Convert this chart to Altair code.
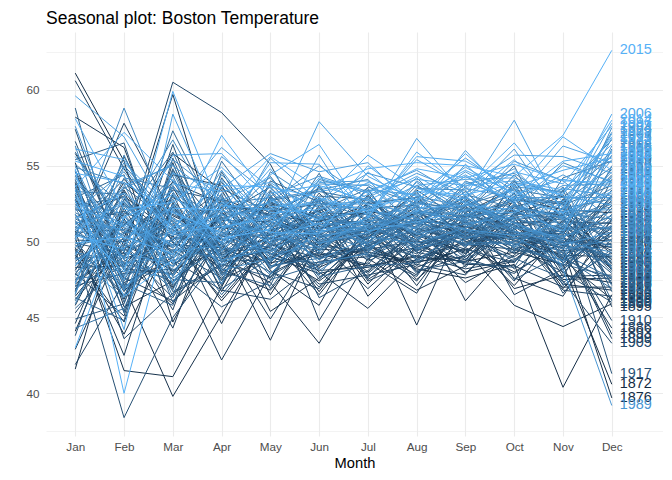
import altair as alt
import pandas as pd

months = ["Jan", "Feb", "Mar", "Apr", "May", "Jun", "Jul", "Aug", "Sep", "Oct", "Nov", "Dec"]
years = list(range(1872, 2016))

# one value per year (1872 ... 2015), 12 years per row
jan = [
    47.2, 52.8, 44.1, 49.6, 61.1, 48.3, 53.9, 41.6, 50.7, 46.4, 55.2, 48.9,
    51.3, 45.8, 49.1, 58.2, 47.5, 53.4, 42.9, 50.2, 48.1, 54.6, 46.9, 60.6,
    49.8, 44.6, 52.3, 47.9, 55.8, 50.4, 41.9, 48.7, 53.1, 46.2, 51.6, 57.4,
    48.4, 52.7, 45.3, 50.9, 47.1, 54.3, 49.5, 43.8, 51.8, 56.6, 46.7, 50.1,
    53.6, 47.8, 49.9, 44.9, 52.1, 48.6, 55.4, 50.6, 46.3, 51.2, 58.8, 47.4,
    50.3, 54.1, 48.2, 45.6, 52.9, 49.4, 47.0, 53.8, 51.5, 46.8, 50.8, 55.9,
    48.9, 52.4, 50.0, 46.1, 54.7, 49.2, 51.9, 47.6, 53.3, 50.5, 44.3, 52.6,
    49.7, 53.5, 47.3, 51.4, 55.1, 48.0, 50.9, 52.2, 46.5, 54.0, 49.3, 51.1,
    52.5, 47.7, 50.6, 54.9, 49.0, 51.7, 45.9, 53.2, 50.2, 48.5, 56.3, 51.0,
    50.8, 54.4, 48.8, 52.0, 57.6, 49.6, 53.7, 46.6, 51.3, 55.0, 50.1, 52.8,
    53.0, 49.1, 55.6, 51.8, 47.2, 54.2, 50.7, 52.9, 59.6, 48.4, 53.4, 51.5,
    52.3, 56.1, 50.4, 54.5, 49.9, 53.6, 58.1, 51.2, 55.3, 43.0, 52.7, 54.8,
]
feb = [
    49.8, 46.2, 51.5, 43.9, 55.3, 48.4, 47.1, 52.6, 41.5, 50.3, 45.7, 53.9,
    48.6, 51.9, 44.7, 56.2, 49.3, 46.8, 50.1, 42.5, 53.4, 47.6, 49.0, 54.8,
    46.4, 52.2, 48.9, 45.1, 50.7, 57.8, 47.3, 51.1, 43.6, 49.7, 53.0, 48.2,
    51.4, 45.4, 49.6, 54.1, 47.9, 50.5, 38.4, 52.8, 46.7, 48.8, 55.6, 50.0,
    47.5, 53.3, 49.2, 45.9, 51.7, 48.0, 56.5, 50.8, 44.8, 52.0, 47.2, 49.5,
    52.5, 46.0, 50.2, 48.7, 54.4, 47.0, 51.3, 45.3, 49.9, 53.6, 48.3, 50.9,
    49.1, 52.9, 46.5, 51.6, 48.5, 55.0, 50.4, 47.8, 53.1, 49.4, 45.6, 51.8,
    50.6, 48.1, 54.2, 46.9, 52.3, 49.8, 51.0, 47.4, 55.7, 50.1, 48.6, 53.5,
    47.7, 51.2, 49.0, 53.8, 46.3, 50.7, 52.4, 48.9, 58.8, 51.5, 47.0, 49.6,
    52.7, 48.2, 50.5, 54.6, 49.3, 51.9, 46.8, 53.0, 50.8, 48.4, 55.2, 51.1,
    49.9, 53.7, 51.4, 47.5, 54.9, 50.2, 52.6, 48.8, 56.9, 51.7, 44.2, 53.2,
    51.0, 55.4, 49.5, 53.9, 50.3, 57.2, 52.1, 48.0, 54.3, 51.6, 46.4, 40.0,
]
mar = [
    48.1, 53.6, 46.9, 50.4, 44.7, 52.0, 39.8, 49.2, 41.1, 55.8, 47.4, 51.3,
    45.9, 50.8, 53.1, 47.7, 59.7, 49.0, 44.3, 52.6, 48.5, 46.1, 54.4, 50.0,
    52.3, 47.0, 49.8, 55.2, 45.5, 51.7, 48.8, 53.9, 46.6, 60.5, 50.5, 47.9,
    49.4, 54.7, 46.3, 51.0, 48.2, 52.9, 45.0, 50.1, 56.4, 47.3, 49.9, 53.4,
    51.8, 46.7, 50.9, 54.0, 48.0, 52.4, 47.1, 49.6, 55.5, 50.3, 45.8, 51.4,
    48.9, 53.2, 47.5, 50.6, 46.0, 54.8, 49.3, 52.1, 48.4, 51.1, 57.3, 49.7,
    52.7, 48.6, 50.2, 55.9, 47.8, 51.5, 49.1, 53.7, 46.4, 50.7, 52.5, 48.3,
    50.4, 47.6, 53.5, 49.5, 51.9, 46.8, 54.3, 50.8, 48.7, 52.2, 49.0, 55.1,
    53.0, 49.8, 51.6, 47.2, 54.6, 50.0, 48.1, 52.8, 50.9, 56.7, 49.4, 51.2,
    49.6, 52.4, 55.4, 50.5, 48.4, 53.3, 51.0, 47.7, 54.1, 50.2, 52.0, 49.1,
    51.5, 55.0, 49.7, 53.6, 50.8, 52.3, 48.6, 54.5, 51.3, 47.3, 58.4, 50.9,
    53.8, 50.6, 55.7, 51.9, 49.2, 54.0, 52.6, 59.9, 50.4, 53.1, 48.8, 52.2,
]
apr = [
    49.5, 47.8, 52.3, 46.1, 50.7, 48.9, 45.2, 51.6, 47.0, 53.4, 49.9, 44.6,
    50.4, 48.2, 46.7, 51.9, 49.1, 42.2, 52.8, 47.5, 50.0, 48.6, 53.7, 46.3,
    48.8, 51.3, 49.6, 47.1, 54.2, 50.2, 46.8, 52.5, 48.4, 58.5, 49.7, 51.0,
    47.6, 50.8, 52.0, 48.1, 45.7, 51.4, 49.3, 53.1, 47.9, 50.6, 48.7, 52.7,
    50.1, 48.5, 53.5, 49.0, 51.7, 46.9, 50.5, 52.2, 48.0, 49.8, 54.6, 47.4,
    51.2, 49.4, 47.3, 52.6, 50.3, 48.3, 53.9, 49.9, 51.5, 46.5, 50.9, 52.4,
    49.2, 51.8, 50.0, 48.7, 52.9, 47.7, 51.1, 49.5, 55.3, 50.7, 48.2, 51.6,
    52.1, 49.6, 51.3, 48.9, 50.4, 53.6, 47.8, 52.5, 50.2, 49.1, 51.9, 48.6,
    50.8, 53.0, 49.3, 51.5, 48.1, 52.3, 50.6, 47.2, 54.0, 51.0, 49.7, 52.8,
    51.7, 49.0, 52.9, 50.3, 54.4, 48.8, 51.4, 53.2, 49.9, 52.0, 50.5, 55.6,
    50.0, 52.7, 54.7, 49.4, 51.8, 56.2, 50.9, 53.5, 48.5, 52.4, 51.1, 54.1,
    53.3, 51.0, 55.8, 50.6, 52.6, 49.8, 54.9, 51.9, 57.0, 50.2, 53.7, 52.1,
]
may = [
    48.6, 51.2, 46.5, 49.9, 52.4, 47.3, 50.6, 45.4, 53.0, 48.1, 43.5, 50.9,
    49.4, 46.8, 52.1, 48.7, 50.3, 47.9, 51.7, 49.0, 44.9, 52.8, 48.4, 50.0,
    51.5, 49.2, 47.6, 53.3, 50.1, 48.5, 46.2, 51.8, 49.7, 55.1, 48.0, 50.7,
    49.8, 52.5, 48.3, 50.5, 47.4, 51.3, 49.6, 46.9, 52.9, 50.2, 48.8, 51.0,
    50.8, 47.7, 51.9, 49.3, 53.6, 48.9, 50.4, 52.2, 47.1, 51.1, 49.5, 54.0,
    49.0, 52.0, 50.6, 48.2, 51.4, 53.8, 49.9, 47.5, 52.6, 50.3, 48.6, 51.7,
    51.6, 49.1, 52.7, 50.0, 48.4, 51.2, 54.3, 49.7, 50.9, 47.8, 52.3, 50.5,
    50.2, 52.4, 49.4, 51.5, 53.1, 48.7, 50.8, 52.9, 49.2, 51.3, 47.9, 52.0,
    51.8, 49.6, 53.4, 50.4, 48.9, 52.5, 51.0, 54.6, 49.8, 50.7, 52.8, 48.3,
    52.2, 50.9, 48.8, 53.7, 51.4, 49.5, 52.6, 50.1, 55.5, 51.6, 49.3, 53.0,
    51.3, 54.2, 50.5, 52.8, 49.9, 53.5, 51.7, 55.8, 50.3, 52.1, 54.8, 51.0,
    53.9, 51.5, 52.3, 55.2, 50.6, 53.2, 51.9, 54.4, 52.7, 50.8, 53.6, 55.6,
]
jun = [
    49.2, 46.7, 51.5, 48.3, 50.8, 43.3, 52.1, 47.6, 49.9, 45.8, 50.4, 48.0,
    47.4, 50.6, 48.8, 52.7, 46.5, 49.5, 51.3, 47.9, 50.0, 44.8, 49.1, 51.9,
    50.3, 48.1, 52.4, 49.6, 47.2, 51.0, 48.7, 53.5, 50.5, 49.0, 46.9, 52.0,
    48.9, 51.6, 49.3, 47.0, 52.9, 50.1, 48.4, 51.2, 46.3, 49.8, 53.2, 50.7,
    51.4, 49.7, 47.5, 52.3, 50.2, 48.6, 51.8, 49.4, 53.7, 50.9, 48.2, 52.6,
    50.0, 52.5, 49.0, 51.1, 47.7, 50.7, 53.0, 48.5, 51.5, 49.9, 52.2, 50.4,
    49.5, 51.7, 53.3, 50.6, 48.9, 52.0, 50.1, 54.5, 49.2, 51.3, 47.8, 52.8,
    51.9, 49.3, 50.8, 52.7, 48.1, 51.4, 53.6, 50.3, 49.7, 52.4, 50.9, 48.6,
    50.5, 52.9, 49.8, 51.2, 54.1, 50.0, 48.8, 52.5, 51.6, 49.4, 53.4, 50.7,
    51.1, 53.8, 50.4, 52.2, 49.6, 51.9, 55.0, 50.8, 52.6, 49.9, 51.5, 54.3,
    52.4, 50.2, 53.9, 51.6, 55.7, 50.9, 52.8, 54.6, 51.2, 53.3, 50.6, 57.9,
    51.8, 54.0, 52.5, 55.1, 50.5, 53.7, 52.1, 56.4, 51.4, 54.2, 52.9, 53.5,
]
jul = [
    48.4, 50.9, 47.2, 49.7, 52.0, 48.9, 46.4, 50.3, 49.1, 51.5, 47.7, 45.6,
    49.8, 48.0, 51.2, 47.5, 50.5, 49.3, 52.4, 48.6, 46.9, 50.0, 49.6, 51.8,
    50.7, 48.3, 49.9, 52.6, 47.8, 50.2, 49.0, 51.3, 48.8, 53.1, 50.4, 47.4,
    49.5, 51.9, 48.5, 50.8, 49.2, 47.9, 52.2, 50.1, 48.1, 51.0, 49.7, 53.4,
    51.1, 49.4, 50.6, 48.7, 52.5, 50.0, 47.6, 51.7, 49.8, 50.9, 53.0, 49.1,
    50.3, 52.1, 49.6, 51.4, 48.4, 50.7, 52.8, 49.3, 51.2, 50.5, 48.9, 52.3,
    51.6, 50.2, 52.7, 49.5, 51.0, 53.5, 50.8, 49.0, 52.0, 50.4, 51.8, 49.7,
    50.6, 52.4, 49.9, 51.5, 50.1, 52.9, 49.4, 51.1, 53.6, 50.5, 51.9, 49.2,
    52.2, 50.7, 51.4, 49.8, 53.2, 51.0, 50.3, 52.6, 49.6, 51.7, 54.1, 50.9,
    51.3, 53.7, 50.8, 52.3, 51.6, 49.9, 52.8, 51.2, 54.5, 50.6, 52.1, 53.3,
    52.5, 51.1, 54.0, 52.9, 50.7, 53.4, 51.8, 55.2, 52.2, 53.8, 51.5, 54.3,
    53.1, 52.4, 55.7, 51.9, 54.6, 52.7, 53.9, 51.6, 55.0, 53.2, 52.0, 54.8,
]
aug = [
    49.0, 47.5, 50.6, 48.2, 51.4, 46.8, 49.7, 52.3, 48.6, 44.5, 50.1, 48.9,
    48.3, 50.8, 47.1, 49.5, 51.9, 48.7, 50.2, 46.6, 49.8, 52.0, 47.8, 50.4,
    51.2, 49.1, 47.4, 50.9, 48.5, 52.7, 49.6, 48.0, 51.5, 49.3, 53.4, 48.8,
    50.0, 48.4, 51.7, 49.9, 47.7, 50.5, 52.4, 49.2, 50.8, 48.1, 51.3, 49.4,
    49.7, 51.6, 48.9, 50.3, 52.9, 49.0, 51.1, 47.9, 50.7, 53.2, 49.5, 51.0,
    51.4, 49.8, 52.2, 50.1, 48.6, 51.8, 50.4, 53.0, 49.3, 51.2, 50.6, 48.7,
    50.9, 52.6, 49.4, 51.5, 50.0, 48.8, 52.3, 51.0, 49.6, 53.7, 50.5, 51.9,
    52.0, 50.3, 51.6, 49.7, 53.3, 50.8, 51.9, 49.5, 52.5, 51.2, 50.0, 52.8,
    50.6, 52.1, 51.3, 53.5, 50.2, 51.7, 49.9, 52.9, 51.0, 54.2, 50.7, 52.4,
    52.6, 51.1, 53.0, 50.5, 52.3, 54.0, 51.5, 50.9, 53.6, 52.0, 51.4, 54.7,
    51.8, 53.9, 52.4, 54.5, 51.3, 53.1, 55.4, 52.2, 53.7, 51.9, 56.8, 52.7,
    54.1, 52.8, 53.5, 55.6, 52.0, 54.3, 53.0, 55.9, 52.6, 54.8, 53.3, 55.2,
]
sep = [
    48.7, 50.3, 49.2, 47.6, 51.0, 48.4, 50.8, 46.1, 49.5, 51.7, 48.0, 50.0,
    49.6, 47.9, 51.3, 48.8, 50.5, 49.0, 47.3, 51.9, 48.5, 50.2, 52.4, 49.3,
    50.6, 48.2, 51.5, 49.8, 47.8, 50.9, 52.7, 49.1, 50.4, 48.6, 51.2, 49.9,
    49.4, 51.6, 48.9, 50.7, 52.2, 49.5, 48.3, 51.0, 50.1, 48.7, 52.9, 50.5,
    50.8, 49.2, 51.9, 48.6, 50.3, 52.5, 49.7, 51.4, 48.8, 50.0, 51.7, 53.3,
    51.1, 50.4, 49.0, 52.3, 50.6, 49.6, 51.8, 50.2, 53.0, 49.8, 51.3, 50.9,
    50.5, 52.0, 51.2, 49.7, 52.8, 50.8, 51.6, 53.6, 50.1, 51.9, 49.9, 52.6,
    51.7, 50.3, 52.4, 51.0, 49.8, 53.1, 51.4, 50.6, 52.2, 51.8, 54.0, 50.7,
    52.1, 51.3, 50.2, 53.4, 51.6, 52.7, 50.9, 51.9, 53.8, 51.1, 52.5, 50.4,
    51.5, 53.0, 52.3, 51.2, 54.3, 52.0, 50.8, 53.5, 52.6, 51.4, 55.1, 52.8,
    52.9, 51.7, 54.6, 53.2, 52.1, 55.5, 53.6, 52.4, 54.1, 56.0, 53.0, 54.9,
    53.7, 54.4, 52.8, 55.3, 53.9, 52.5, 54.7, 53.4, 55.8, 54.2, 53.1, 55.0,
]
oct = [
    49.3, 47.1, 51.6, 48.5, 50.2, 52.8, 46.9, 49.8, 45.8, 51.1, 48.7, 50.5,
    48.0, 50.9, 49.4, 52.3, 47.6, 51.0, 49.1, 53.5, 48.4, 50.6, 46.5, 51.8,
    50.1, 48.8, 52.6, 49.5, 51.3, 47.4, 50.7, 54.0, 49.0, 51.9, 48.2, 50.4,
    51.2, 49.6, 47.9, 52.1, 50.0, 48.6, 51.7, 49.2, 53.2, 50.8, 47.5, 51.5,
    49.9, 52.4, 50.5, 48.3, 51.6, 50.2, 53.8, 49.4, 51.0, 48.9, 52.7, 50.3,
    52.0, 49.7, 51.4, 50.6, 48.7, 53.0, 50.9, 52.3, 49.5, 51.8, 50.1, 54.4,
    50.7, 53.1, 49.8, 52.5, 51.2, 49.3, 52.9, 50.4, 51.7, 55.0, 50.0, 51.3,
    51.9, 50.5, 53.4, 51.1, 49.9, 52.2, 50.8, 54.1, 51.5, 49.6, 52.6, 50.2,
    50.6, 52.8, 51.3, 49.7, 53.6, 51.0, 52.4, 50.3, 54.5, 51.8, 50.9, 53.0,
    52.3, 50.7, 53.9, 51.6, 52.5, 55.3, 50.4, 52.9, 51.2, 53.7, 52.0, 56.1,
    51.4, 53.5, 52.7, 54.8, 51.9, 53.3, 55.7, 52.1, 54.2, 52.6, 58.0, 53.1,
    54.0, 52.5, 55.4, 53.6, 52.8, 54.6, 53.2, 56.5, 52.9, 55.1, 53.8, 54.3,
]
nov = [
    48.5, 50.8, 46.9, 40.4, 49.6, 52.1, 47.8, 50.2, 44.4, 48.9, 51.4, 47.2,
    50.0, 47.5, 49.3, 51.7, 46.4, 48.8, 52.6, 49.7, 47.0, 50.5, 48.2, 53.0,
    49.1, 51.3, 47.7, 50.4, 48.6, 52.8, 46.8, 49.9, 51.0, 47.4, 50.7, 48.3,
    51.5, 48.0, 50.1, 46.6, 49.4, 52.3, 48.7, 50.9, 47.9, 51.8, 49.2, 50.6,
    48.4, 51.1, 49.6, 53.4, 47.3, 50.3, 48.9, 51.9, 49.8, 47.6, 52.5, 50.0,
    50.8, 48.5, 52.0, 49.5, 51.2, 47.1, 50.5, 53.1, 48.8, 51.6, 49.0, 50.9,
    49.7, 52.4, 50.6, 48.1, 51.3, 54.2, 49.2, 50.7, 52.7, 48.6, 51.0, 49.9,
    51.4, 49.3, 52.9, 50.2, 48.5, 51.8, 53.6, 49.6, 50.8, 52.2, 49.0, 51.1,
    50.4, 52.6, 49.5, 51.7, 53.3, 50.0, 51.5, 48.7, 52.4, 55.2, 50.3, 51.9,
    51.6, 49.8, 53.2, 52.0, 50.5, 54.0, 51.2, 52.9, 50.1, 48.2, 53.7, 51.4,
    52.5, 50.9, 54.4, 51.6, 53.5, 52.1, 55.6, 50.7, 53.0, 56.3, 51.8, 54.1,
    53.4, 55.0, 52.2, 54.7, 51.9, 53.8, 56.9, 52.6, 55.3, 54.0, 53.1, 57.0,
]
dec = [
    40.6, 48.2, 50.7, 46.5, 39.7, 51.9, 47.3, 49.6, 45.9, 52.4, 48.8, 46.8,
    50.1, 47.6, 44.3, 49.2, 51.5, 46.2, 48.5, 53.0, 47.0, 43.9, 50.4, 45.7,
    49.0, 51.2, 47.8, 43.6, 50.6, 48.1, 46.4, 52.7, 49.4, 43.3, 47.5, 51.0,
    48.6, 46.0, 44.8, 50.2, 49.7, 47.2, 52.2, 48.3, 51.4, 41.3, 49.9, 47.9,
    50.9, 48.4, 53.4, 46.7, 49.3, 51.7, 47.4, 50.0, 48.9, 54.1, 46.1, 49.8,
    51.3, 47.7, 50.5, 52.9, 48.0, 49.5, 54.8, 47.1, 51.8, 50.3, 46.9, 52.5,
    49.1, 53.7, 48.7, 51.6, 50.8, 55.3, 47.6, 52.0, 49.7, 51.1, 54.4, 48.4,
    52.6, 50.4, 55.6, 49.0, 53.1, 51.5, 48.2, 54.3, 50.9, 52.8, 56.1, 49.6,
    51.0, 54.9, 50.1, 53.5, 56.7, 49.3, 52.3, 55.0, 50.7, 53.9, 51.7, 57.2,
    53.2, 50.6, 55.9, 52.1, 57.5, 51.4, 54.6, 52.9, 56.3, 39.2, 53.8, 55.4,
    54.2, 56.8, 52.7, 55.7, 53.0, 57.8, 54.5, 56.0, 52.4, 55.2, 57.1, 53.6,
    56.4, 54.0, 58.4, 55.5, 53.3, 57.6, 54.7, 56.9, 55.8, 53.9, 58.0, 62.6,
]

monthly = [jan, feb, mar, apr, may, jun, jul, aug, sep, oct, nov, dec]

rows = []
for i, yr in enumerate(years):
    for m in range(12):
        rows.append({"year": yr, "month": m + 1, "temp": monthly[m][i]})
df = pd.DataFrame(rows)

month_expr = "[" + ",".join("'%s'" % m for m in months) + "][datum.value - 1]"
grey = "#4D4D4D"
color_scale = alt.Scale(range=["#132B43", "#56B1F7"], interpolate="lab")

x_enc = alt.X(
    "month:Q",
    scale=alt.Scale(domain=[0.4, 13.05], nice=False, zero=False),
    axis=alt.Axis(
        title="Month", values=list(range(1, 13)), labelExpr=month_expr,
        domain=False, ticks=False, tickSize=0, labelPadding=5,
        labelColor=grey, labelFontSize=11.7, titleFontSize=14.7,
        titleFontWeight="normal", titleColor="black", titlePadding=3,
        gridColor="#EBEBEB", gridWidth=1.1,
    ),
)
y_enc = alt.Y(
    "temp:Q",
    scale=alt.Scale(domain=[37.19, 63.81], nice=False, zero=False),
    axis=alt.Axis(
        title=None, values=[37.5, 40, 42.5, 45, 47.5, 50, 52.5, 55, 57.5, 60, 62.5],
        labelExpr="datum.value % 5 === 0 ? datum.label : ''",
        domain=False, ticks=False, tickSize=0, labelPadding=7,
        labelColor=grey, labelFontSize=11.7, gridColor="#EBEBEB",
        gridWidth={"condition": {"test": "datum.value % 5 === 0", "value": 1.1}, "value": 0.6},
    ),
)

lines = alt.Chart(df).mark_line(strokeWidth=1).encode(
    x=x_enc,
    y=y_enc,
    color=alt.Color("year:Q", scale=color_scale, legend=None),
    detail="year:N",
)

labels = alt.Chart(df).transform_filter("datum.month == 12").mark_text(
    align="left", baseline="middle", dx=8, fontSize=14.4
).encode(
    x="month:Q",
    y="temp:Q",
    text="year:N",
    color=alt.Color("year:Q", scale=color_scale, legend=None),
)

chart = alt.layer(lines, labels).properties(
    width=617,
    height=404,
    autosize=alt.AutoSizeParams(type="none"),
    padding={"left": 38, "top": 24, "right": 0, "bottom": 36},
    title=alt.TitleParams(
        "Seasonal plot: Boston Temperature", anchor="start", frame="group",
        fontSize=17.5, fontWeight="normal", color="black", offset=5,
    ),
).configure(
    font="Liberation Sans",
).configure_view(stroke=None)

chart.save("out.html", embed_options={"renderer": "svg", "actions": False})
